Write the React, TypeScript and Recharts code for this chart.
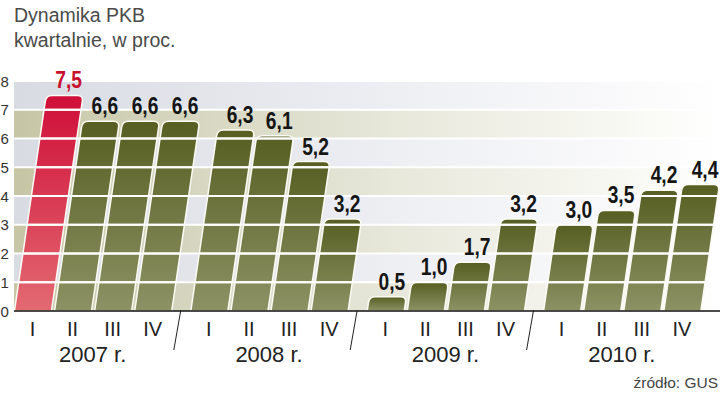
import React from "react";
import { BarChart, Bar, XAxis, YAxis, ReferenceArea, ReferenceLine, LabelList } from "recharts";

const quarters = ["I", "II", "III", "IV"];
const years = ["2007 r.", "2008 r.", "2009 r.", "2010 r."];
const values2007 = [7.5, 6.6, 6.6, 6.6];
const values2008 = [6.3, 6.1, 5.2, 3.2];
const values2009 = [0.5, 1.0, 1.7, 3.2];
const values2010 = [3.0, 3.5, 4.2, 4.4];
const yTicks = [0, 1, 2, 3, 4, 5, 6, 7, 8];
const highlightYear = 0;
const highlightQuarter = 0;

const title1 = "Dynamika PKB";
const title2 = "kwartalnie, w proc.";
const source = "źródło: GUS";

const GROUP_STEP = 4.4;
const SLANT = 0.147;

const yearValues = [values2007, values2008, values2009, values2010];
const data = yearValues.flatMap((vals, g) =>
  vals.map((v, q) => ({
    pos: g * GROUP_STEP + q,
    quarter: quarters[q],
    year: years[g],
    value: v,
    highlight: g === highlightYear && q === highlightQuarter,
  }))
);
const quarterTicks = data.map((d) => d.pos);
const yearTicks = years.map((_, g) => g * GROUP_STEP + 1.5);
const sepTicks = years.slice(1).map((_, g) => g * GROUP_STEP + 3.7);

const W = 720;
const H = 396;
const DMIN = -0.4615;
const DMAX = 17.15;

const fmt = (v: number) => v.toFixed(1).replace(".", ",");

const SlantBar = (props: any) => {
  const { x, y, width, height, payload } = props;
  if (!height || height <= 0) return null;
  const s = height * SLANT;
  const r = Math.min(6, height / 2, width / 3);
  const by = y + height;
  const k = (s * r) / height;
  const d = [
    `M${x},${by}`,
    `L${x + s - k},${y + r}`,
    `Q${x + s},${y} ${x + s + r},${y}`,
    `L${x + width + s - r},${y}`,
    `Q${x + width + s},${y} ${x + width + s - k},${y + r}`,
    `L${x + width},${by}`,
    "Z",
  ].join(" ");
  const value = payload ? payload.value : 0;
  const ppu = value > 0 ? height / value : 0;
  const lines = yTicks.filter((t) => t > 0 && t * ppu < height - 1.5);
  return (
    <g>
      <path
        d={d}
        fill={payload && payload.highlight ? "url(#gRed)" : "url(#gGreen)"}
        stroke="#fbfbf4"
        strokeWidth={1.5}
        strokeLinejoin="round"
      />
      {lines.map((t) => {
        const dy = t * ppu;
        const lx = x + SLANT * dy;
        return (
          <line
            key={t}
            x1={lx}
            x2={lx + width}
            y1={by - dy}
            y2={by - dy}
            stroke="#ffffff"
            strokeWidth={2}
          />
        );
      })}
    </g>
  );
};

const ValueLabel = (props: any) => {
  const { x, y, width, height, value, index } = props;
  const s = height * SLANT;
  const cx = x + width / 2 + s + 4;
  const hl = data[index] && data[index].highlight;
  return (
    <text
      transform={`translate(${cx},${y - 7}) scale(0.8,1)`}
      x={0}
      y={0}
      textAnchor="middle"
      fontFamily="'Liberation Sans', Arial, sans-serif"
      fontWeight="bold"
      fontSize={24}
      fill={hl ? "#c8102e" : "#151515"}
    >
      {fmt(value)}
    </text>
  );
};

const QuarterTick = (props: any) => {
  const { x, y, index } = props;
  return (
    <text
      x={x}
      y={y + 25}
      textAnchor="middle"
      fontFamily="'Liberation Sans', Arial, sans-serif"
      fontSize={20}
      fill="#222"
    >
      {data[index] ? data[index].quarter : ""}
    </text>
  );
};

const YearTick = (props: any) => {
  const { x, y, index } = props;
  return (
    <text
      x={x}
      y={y + 21}
      textAnchor="middle"
      fontFamily="'Liberation Sans', Arial, sans-serif"
      fontSize={22}
      fill="#222"
    >
      {years[index]}
    </text>
  );
};

const SepTick = (props: any) => {
  const { x, y } = props;
  return <line x1={x} y1={y - 71} x2={x - 7} y2={y - 31} stroke="#222" strokeWidth={1} />;
};

const YTick = (props: any) => {
  const { y, payload } = props;
  return (
    <text
      x={0.5}
      y={y + 5.5}
      textAnchor="start"
      fontFamily="'Liberation Sans', Arial, sans-serif"
      fontSize={15}
      fill="#333"
    >
      {payload.value}
    </text>
  );
};

export default function App() {
  return (
    <div style={{ position: "absolute", left: 0, top: 0, width: W, height: H, background: "#fff" }}>
      <BarChart
        width={W}
        height={H}
        data={data}
        margin={{ top: 81, right: 0, left: 0, bottom: 0 }}
      >
        <defs>
          <linearGradient id="gGreen" x1="0" y1="0" x2="0" y2="1">
            <stop offset="0" stopColor="#565e22" />
            <stop offset="1" stopColor="#8c9264" />
          </linearGradient>
          <linearGradient id="gRed" x1="0" y1="0" x2="0" y2="1">
            <stop offset="0" stopColor="#cf0e38" />
            <stop offset="1" stopColor="#e36a72" />
          </linearGradient>
          <linearGradient id="gBeige" x1="0" y1="0" x2="1" y2="0">
            <stop offset="0" stopColor="#c6c6a6" />
            <stop offset="0.3" stopColor="#d9d9c5" />
            <stop offset="0.6" stopColor="#ebebe0" />
            <stop offset="0.9" stopColor="#fafaf6" />
            <stop offset="1" stopColor="#ffffff" />
          </linearGradient>
          <linearGradient id="gGrey" x1="0" y1="0" x2="1" y2="0">
            <stop offset="0" stopColor="#d9dbe3" />
            <stop offset="0.3" stopColor="#e4e6ec" />
            <stop offset="0.6" stopColor="#f0f1f5" />
            <stop offset="0.9" stopColor="#fbfbfc" />
            <stop offset="1" stopColor="#ffffff" />
          </linearGradient>
        </defs>
        <XAxis
          xAxisId="a"
          dataKey="pos"
          type="number"
          domain={[DMIN, DMAX]}
          allowDataOverflow
          ticks={quarterTicks}
          interval={0}
          tick={<QuarterTick />}
          tickLine={false}
          tickSize={0}
          tickMargin={0}
          height={30}
          axisLine={{ stroke: "#111", strokeWidth: 1.5 }}
        />
        <XAxis
          xAxisId="b"
          dataKey="pos"
          type="number"
          domain={[DMIN, DMAX]}
          allowDataOverflow
          ticks={yearTicks}
          interval={0}
          tick={<YearTick />}
          tickLine={false}
          tickSize={0}
          tickMargin={0}
          height={40}
          axisLine={false}
        />
        <XAxis
          xAxisId="c"
          dataKey="pos"
          type="number"
          domain={[DMIN, DMAX]}
          allowDataOverflow
          ticks={sepTicks}
          interval={0}
          tick={<SepTick />}
          tickLine={false}
          tickSize={0}
          tickMargin={0}
          height={15}
          axisLine={false}
        />
        <YAxis
          type="number"
          domain={[0, 8]}
          ticks={yTicks}
          interval={0}
          width={14}
          axisLine={false}
          tickLine={false}
          tick={<YTick />}
        />
        {yTicks.slice(0, -1).map((t) => (
          <ReferenceArea
            key={"band" + t}
            xAxisId="a"
            y1={t}
            y2={t + 1}
            fill={t % 2 === 0 ? "url(#gBeige)" : "url(#gGrey)"}
            fillOpacity={1}
            stroke="none"
            ifOverflow="hidden"
          />
        ))}
        {yTicks.slice(1).map((t) => (
          <ReferenceLine
            key={"grid" + t}
            xAxisId="a"
            y={t}
            stroke="#ffffff"
            strokeWidth={2}
          />
        ))}
        <Bar
          xAxisId="a"
          dataKey="value"
          barSize={37}
          shape={<SlantBar />}
          isAnimationActive={false}
        >
          <LabelList dataKey="value" content={<ValueLabel />} />
        </Bar>
      </BarChart>
      <div
        style={{
          position: "absolute",
          left: 14,
          top: 3,
          fontFamily: "'Liberation Sans', Arial, sans-serif",
          fontSize: 19.5,
          lineHeight: "25px",
          color: "#4a4a4a",
        }}
      >
        <div>{title1}</div>
        <div>{title2}</div>
      </div>
      <div
        style={{
          position: "absolute",
          right: 2,
          top: 374,
          fontFamily: "'Liberation Sans', Arial, sans-serif",
          fontSize: 15.5,
          color: "#444",
        }}
      >
        {source}
      </div>
    </div>
  );
}
